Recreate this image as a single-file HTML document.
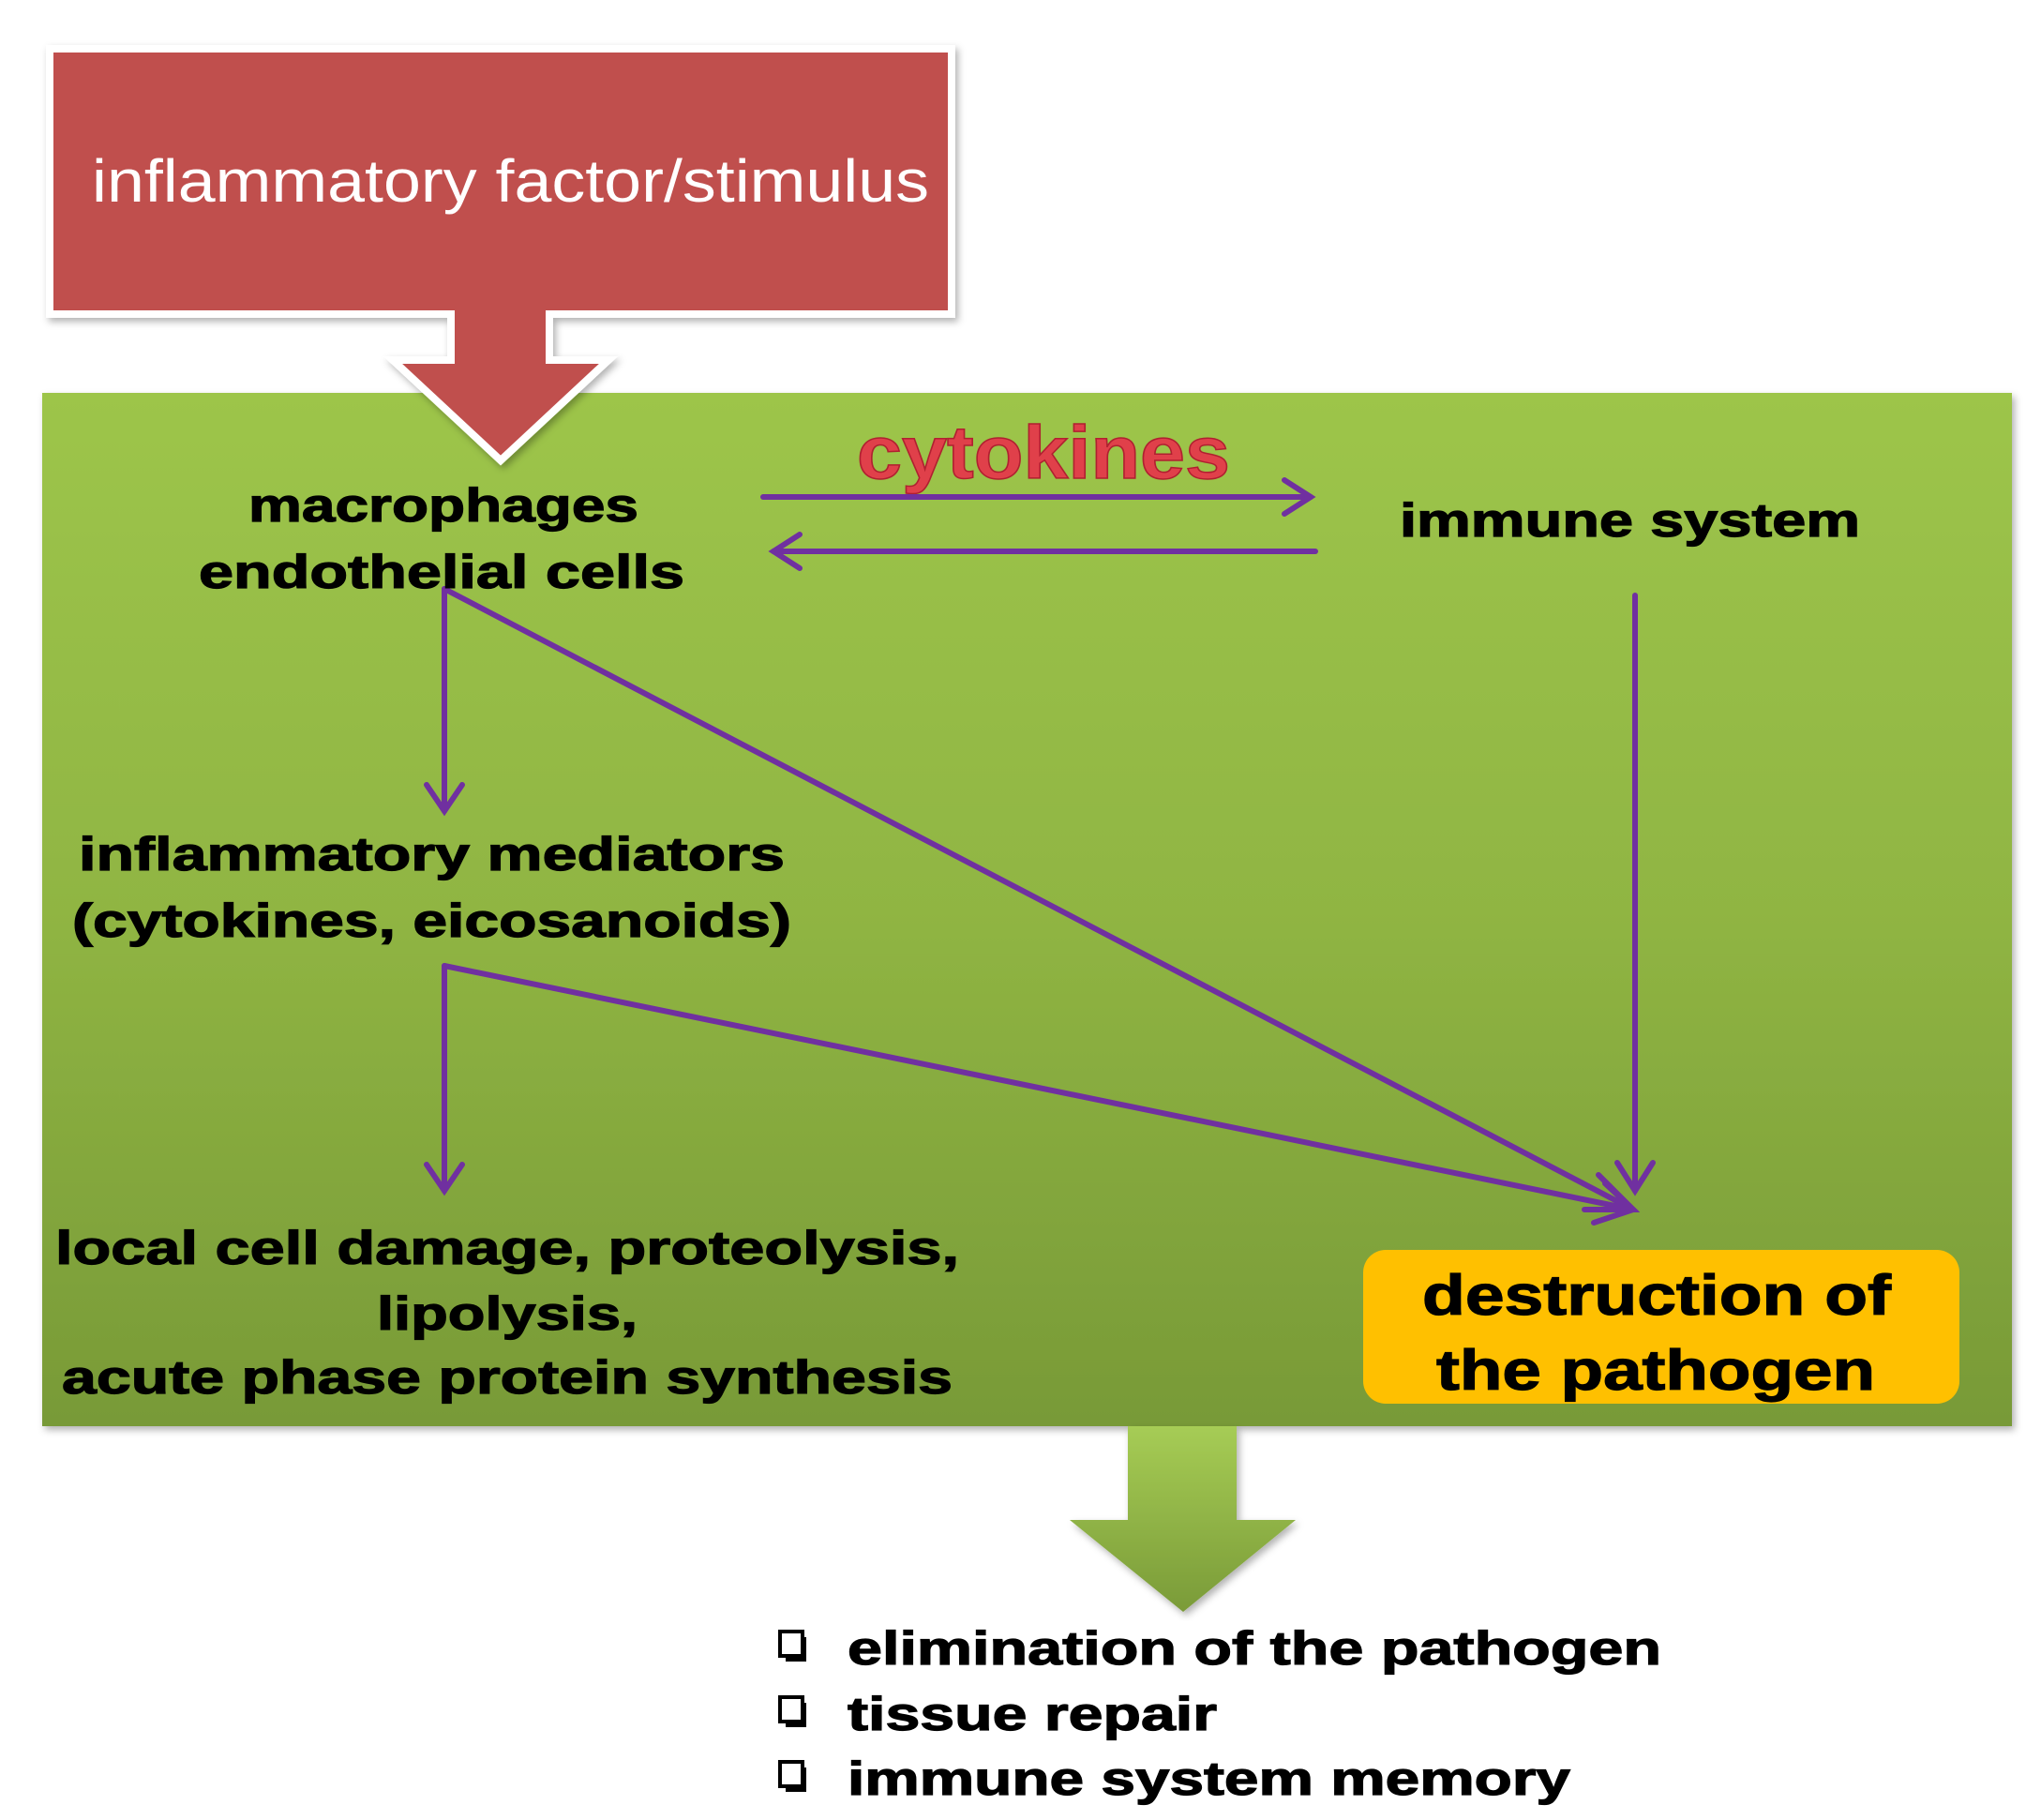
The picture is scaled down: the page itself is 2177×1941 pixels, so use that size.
<!DOCTYPE html>
<html><head><style>
html,body{margin:0;padding:0;background:#fff;}
svg{display:block;}
text{font-family:"Liberation Sans",Arial,sans-serif;}
.b{font-weight:bold;font-size:50px;fill:#000;stroke:#000;stroke-width:1.2;}
</style></head><body>
<svg width="2177" height="1941" viewBox="0 0 2177 1941" xmlns="http://www.w3.org/2000/svg">
<defs>
<linearGradient id="g" x1="0" y1="0" x2="0" y2="1">
<stop offset="0" stop-color="#9dc54a"/><stop offset="0.5" stop-color="#90b543"/><stop offset="1" stop-color="#789a37"/>
</linearGradient>
<linearGradient id="ga" x1="0" y1="0" x2="0" y2="1">
<stop offset="0" stop-color="#a6cc55"/><stop offset="1" stop-color="#7a9b38"/>
</linearGradient>
<filter id="sh" x="-5%" y="-5%" width="110%" height="110%"><feDropShadow dx="3" dy="4" stdDeviation="4" flood-color="#000" flood-opacity="0.3"/></filter>
</defs>
<rect x="45" y="419" width="2101" height="1102" fill="url(#g)" filter="url(#sh)"/>
<path d="M53 52 H1015 V335 H586 V384 H649 L534 491 L419 384 H481 V335 H53 Z" fill="#c0504d" stroke="#fff" stroke-width="8" filter="url(#sh)"/>
<text x="98" y="215" font-size="64" fill="#fff" textLength="893" lengthAdjust="spacingAndGlyphs">inflammatory factor/stimulus</text>
<text x="914" y="510" font-size="80" font-weight="bold" fill="#e0404a" stroke="#b02030" stroke-width="1.5" textLength="398" lengthAdjust="spacingAndGlyphs">cytokines</text>
<g stroke="#7030a0" stroke-width="6" fill="none" stroke-linecap="round">
<line x1="814" y1="530" x2="1398" y2="530"/><polyline points="1370,512 1398,530 1370,548"/>
<line x1="825" y1="588" x2="1403" y2="588"/><polyline points="853,570 825,588 853,606"/>
<line x1="474" y1="628" x2="474" y2="865"/><polyline points="455,837 474,865 493,837"/>
<line x1="474" y1="628" x2="1742" y2="1290"/>
<line x1="474" y1="1030" x2="474" y2="1270"/><polyline points="455,1242 474,1270 493,1242"/>
<line x1="474" y1="1030" x2="1742" y2="1290"/>
<polyline points="1690,1290 1742,1290 1705,1253"/>
<polyline points="1700,1304 1742,1290 1712,1262"/>
<line x1="1744" y1="635" x2="1744" y2="1270"/><polyline points="1725,1240 1744,1270 1763,1240"/>
</g>
<g lengthAdjust="spacingAndGlyphs">
<text class="b" x="265" y="556" textLength="416" lengthAdjust="spacingAndGlyphs">macrophages</text>
<text class="b" x="212" y="627" textLength="518" lengthAdjust="spacingAndGlyphs">endothelial cells</text>
<text class="b" x="1493" y="572" textLength="491" lengthAdjust="spacingAndGlyphs">immune system</text>
<text class="b" x="84" y="928" textLength="753" lengthAdjust="spacingAndGlyphs">inflammatory mediators</text>
<text class="b" x="77" y="999" textLength="767" lengthAdjust="spacingAndGlyphs">(cytokines, eicosanoids)</text>
<text class="b" x="59" y="1348" textLength="964" lengthAdjust="spacingAndGlyphs">local cell damage, proteolysis,</text>
<text class="b" x="402" y="1418" textLength="278" lengthAdjust="spacingAndGlyphs">lipolysis,</text>
<text class="b" x="66" y="1486" textLength="950" lengthAdjust="spacingAndGlyphs">acute phase protein synthesis</text>
</g>
<rect x="1454" y="1333" width="636" height="164" rx="24" fill="#ffc000"/>
<text class="b" x="1517" y="1402" font-size="60" style="font-size:60px" textLength="500" lengthAdjust="spacingAndGlyphs">destruction of</text>
<text class="b" x="1532" y="1482" style="font-size:60px" textLength="468" lengthAdjust="spacingAndGlyphs">the pathogen</text>
<path d="M1203 1521 H1319 V1621 H1382 L1262 1719 L1141 1621 H1203 Z" fill="url(#ga)" filter="url(#sh)"/>
<text class="b" x="904" y="1775" textLength="868" lengthAdjust="spacingAndGlyphs">elimination of the pathogen</text>
<text class="b" x="904" y="1845" textLength="394" lengthAdjust="spacingAndGlyphs">tissue repair</text>
<text class="b" x="904" y="1914" textLength="771" lengthAdjust="spacingAndGlyphs">immune system memory</text>
<g fill="none" stroke="#000" stroke-width="4">
<rect x="832" y="1740" width="24" height="26"/><path d="M858 1746 V1770 H838"/>
<rect x="832" y="1810" width="24" height="26"/><path d="M858 1816 V1840 H838"/>
<rect x="832" y="1879" width="24" height="26"/><path d="M858 1885 V1909 H838"/>
</g>
</svg>
</body></html>
